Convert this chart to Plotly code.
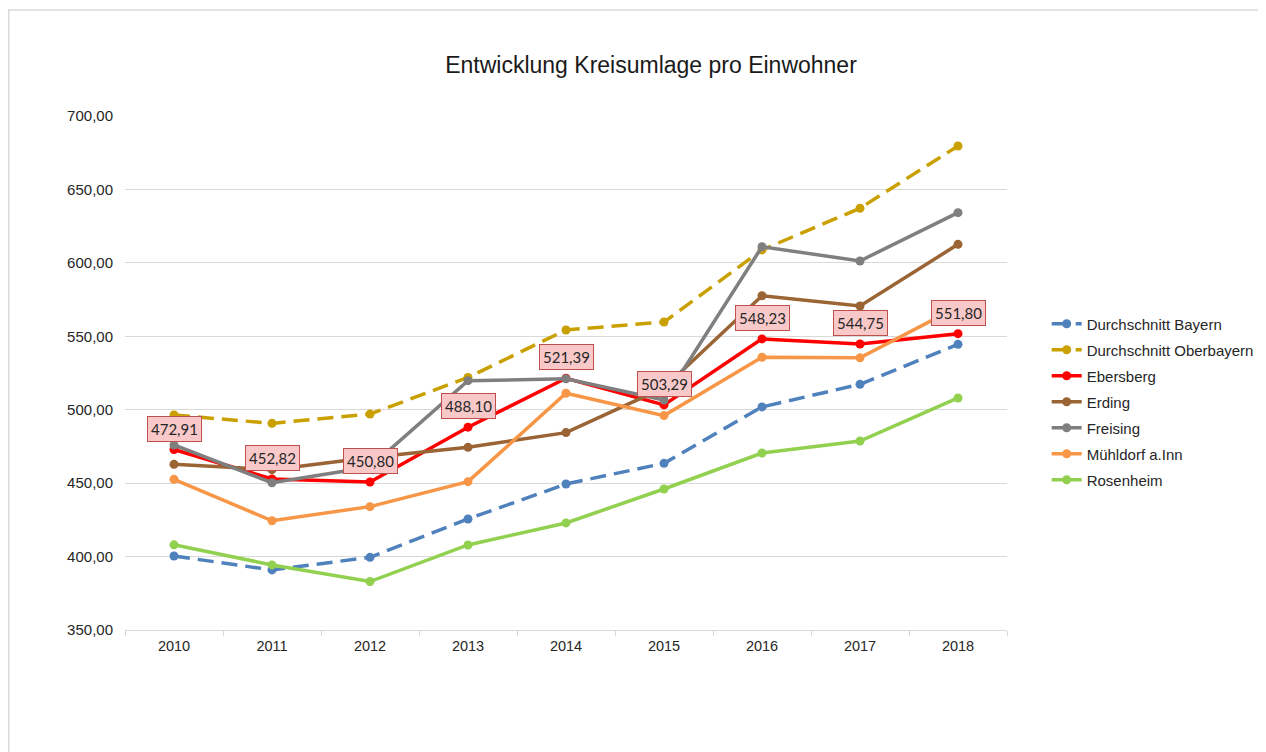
import plotly.graph_objects as go

years = ["2010", "2011", "2012", "2013", "2014", "2015", "2016", "2017", "2018"]

bayern = [400.4, 390.9, 399.5, 425.6, 449.4, 463.5, 501.9, 517.3, 544.5]
oberbayern = [496.4, 490.7, 497.0, 522.0, 554.3, 559.7, 608.8, 637.2, 679.6]
ebersberg = [472.91, 452.82, 450.80, 488.10, 521.39, 503.29, 548.23, 544.75, 551.80]
erding = [462.8, 459.2, 467.5, 474.4, 484.4, 515.0, 577.6, 570.6, 612.6]
freising = [476.0, 450.3, 461.0, 519.8, 521.0, 506.6, 611.0, 601.3, 634.2]
muehldorf = [452.6, 424.4, 434.0, 451.0, 511.2, 496.0, 535.7, 535.3, 570.0]
rosenheim = [408.0, 394.3, 383.0, 407.9, 422.9, 446.0, 470.5, 478.7, 508.0]

series = [
    ("Durchschnitt Bayern", bayern, "#4f81bd", "16px,8px"),
    ("Durchschnitt Oberbayern", oberbayern, "#c9a000", "16px,8px"),
    ("Ebersberg", ebersberg, "#ff0000", "solid"),
    ("Erding", erding, "#9a6434", "solid"),
    ("Freising", freising, "#7f7f7f", "solid"),
    ("Mühldorf a.Inn", muehldorf, "#f79646", "solid"),
    ("Rosenheim", rosenheim, "#92d050", "solid"),
]

fig = go.Figure()
for i, (name, vals, color, dash) in enumerate(series):
    fig.add_trace(go.Scatter(
        x=years, y=vals, name=name, mode="lines+markers",
        line=dict(color=color, width=3.5, dash=dash),
        marker=dict(color=color, size=9),
        legendgroup=f"g{i}",
    ))

annotations = []
for idx, v in enumerate(ebersberg):
    annotations.append(dict(
        x=idx, y=v, xref="x", yref="y",
        text=f"{v:.2f}".replace(".", ","), showarrow=False,
        yshift=21, bgcolor="#f9c8c8", bordercolor="#c0504d", borderwidth=1,
        borderpad=3, font=dict(family="Lato", size=15, color="#262626"),
    ))

shapes = [dict(type="rect", xref="paper", yref="paper",
               x0=-0.1318, x1=1.5, y0=-0.6, y1=1.206,
               line=dict(color="#d9d9d9", width=1.5), fillcolor="rgba(0,0,0,0)",
               layer="below")]

fig.update_layout(
    width=1266, height=752,
    margin=dict(l=117, r=267, t=108, b=130),
    paper_bgcolor="white", plot_bgcolor="white",
    separators=",.",
    annotations=annotations,
    shapes=shapes,
    title=dict(text="Entwicklung Kreisumlage pro Einwohner", x=643/1266, xanchor="center",
               xref="container", y=1 - 57/752, yanchor="middle", yref="container",
               font=dict(family="Liberation Sans", size=23, color="#1a1a1a")),
    font=dict(family="Liberation Sans", size=14, color="#262626"),
    showlegend=True,
    legend=dict(x=1.045, xanchor="left", y=0.4436, yanchor="middle",
                font=dict(family="Liberation Sans", size=15, color="#262626"),
                tracegroupgap=3.5, bgcolor="rgba(0,0,0,0)"),
    xaxis=dict(type="category", range=[-0.5, 8.5], showgrid=False,
               showline=True, linecolor="#d9d9d9", linewidth=1,
               ticks="outside", tickson="boundaries", ticklen=5, tickcolor="#d9d9d9",
               ticklabelstandoff=3,
               tickfont=dict(size=14.5, color="#262626")),
    yaxis=dict(range=[350, 700], dtick=50, tickformat=".2f", showgrid=True,
               gridcolor="#d9d9d9", gridwidth=1, zeroline=False, showline=False,
               ticks="", ticklabelstandoff=11,
               tickfont=dict(size=15, color="#262626")),
)

fig.write_html("out.html")
